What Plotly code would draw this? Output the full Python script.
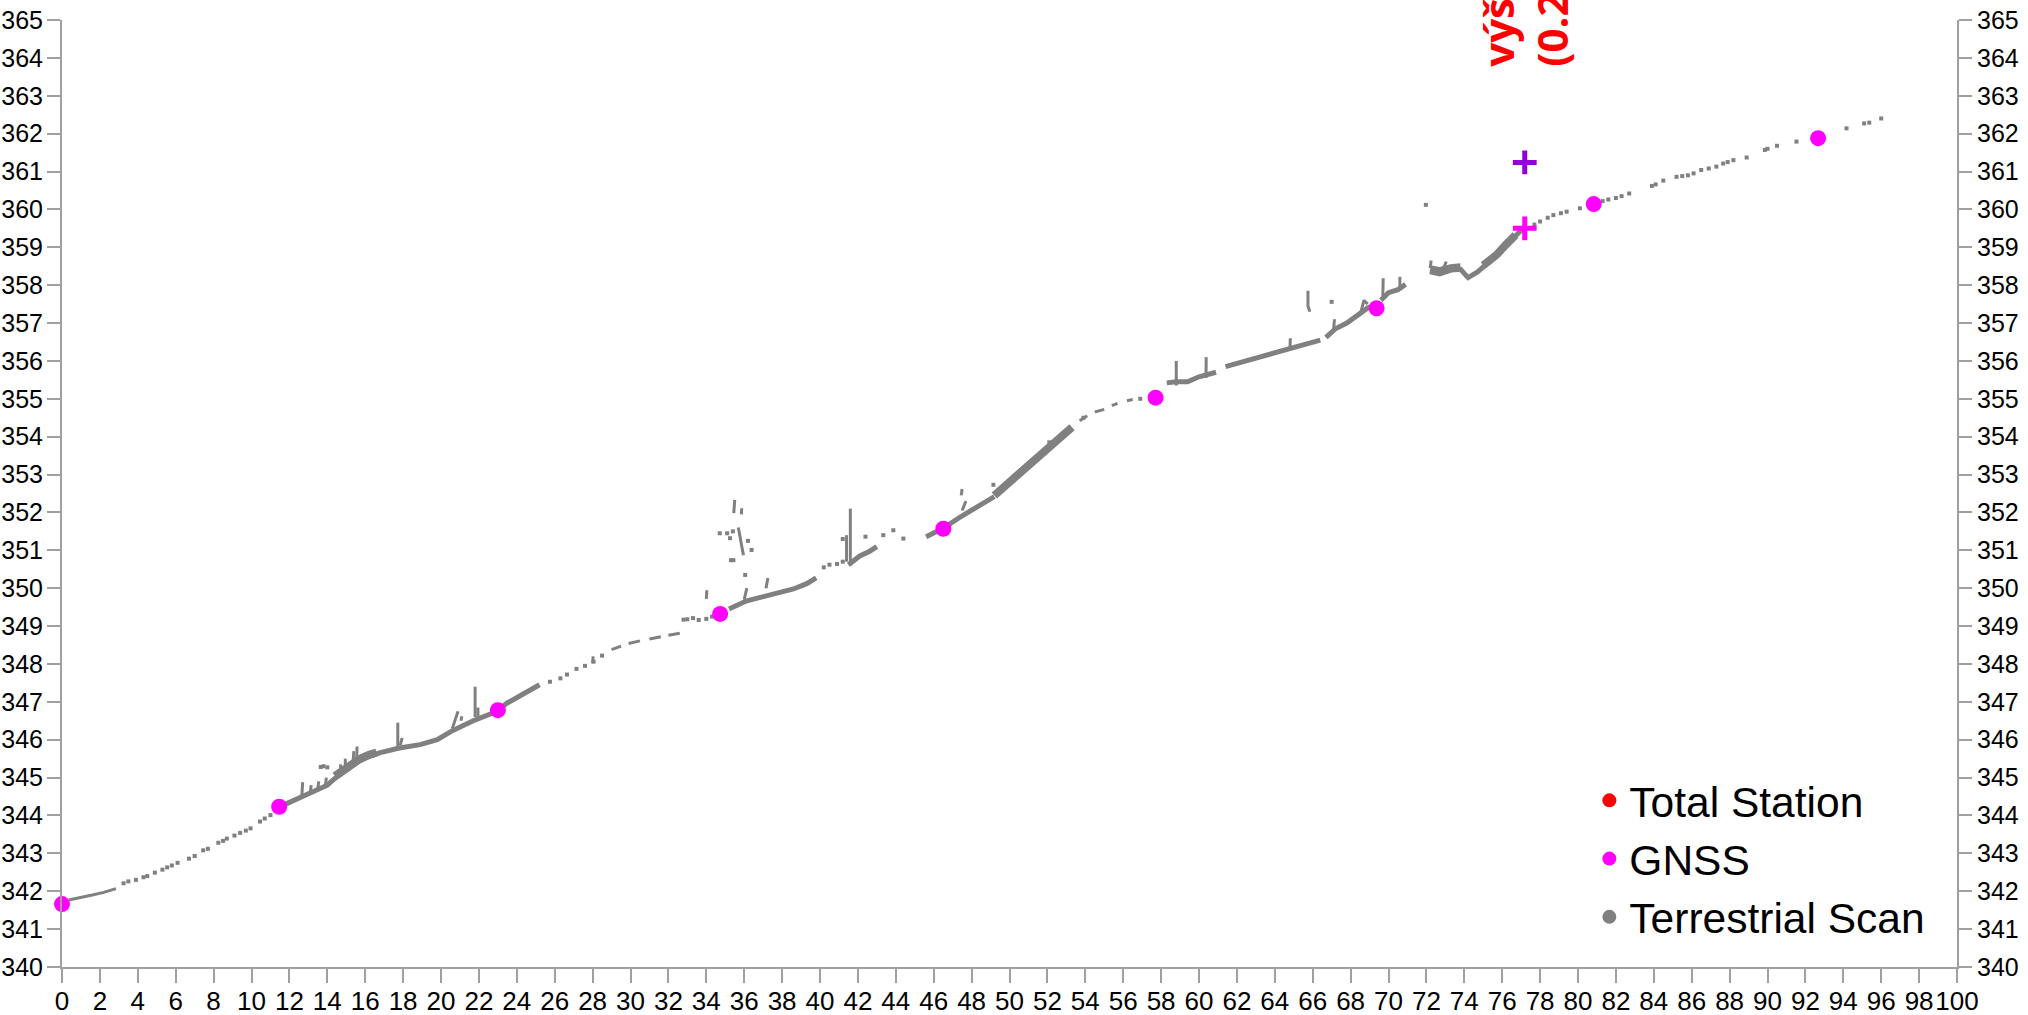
import plotly.graph_objects as go

# ---------------- data ----------------
# GNSS control points along the profile (station [m], elevation [m])
gnss_x = [0.0, 11.46, 23.0, 34.73, 46.51, 57.71, 69.37, 80.83, 92.67]
gnss_y = [341.66, 344.23, 346.78, 349.32, 351.57, 355.03, 357.39, 360.14, 361.88]

# Total station shots (same stations as GNSS, drawn underneath)
ts_x = gnss_x
ts_y = gnss_y

# Check point: ground level and elevated position
check_x = [77.19]
check_ground_y = [359.50]
check_top_y = [361.24]

# Terrestrial scan: dense ground bands (centre lines, segments split by None)
band_x = [11.8, 12.5, 13.3, 14.0, 14.4, 14.9, 15.7, 16.2, 16.8, 17.8, 18.9, 19.8,
          20.6, 21.7, 22.8, 23.5, 24.5, 25.2, None,
          35.2, 35.6, 36.1, 36.8, 37.7, 38.6, 39.3, 39.8, None,
          41.5, 42.1, 42.6, 43.0, None,
          45.6, 46.0, 46.5, 47.4, 48.3, 49.2, None,
          58.3, 58.8, 59.4, 60.0, 60.9, None,
          61.4, 62.5, 63.5, 64.5, 65.5, 66.4, None,
          66.7, 67.2, 67.8, 68.4, 68.9, 69.3, None,
          69.6, 70.0, 70.5, 70.9, None,
          72.2, 72.7, 73.3, 73.8, 74.2, 74.7, 75.2, 75.7, 76.2, 76.7, 77.2]
band_y = [344.30, 344.46, 344.62, 344.80, 344.98, 345.17, 345.44, 345.56, 345.66, 345.78, 345.87, 346.00,
          346.24, 346.50, 346.72, 346.97, 347.24, 347.45, None,
          349.45, 349.55, 349.66, 349.75, 349.85, 349.98, 350.12, 350.27, None,
          350.62, 350.85, 350.97, 351.10, None,
          351.36, 351.45, 351.58, 351.88, 352.16, 352.42, None,
          355.42, 355.45, 355.45, 355.58, 355.70, None,
          355.85, 356.00, 356.15, 356.26, 356.40, 356.55, None,
          356.62, 356.85, 357.00, 357.20, 357.40, 357.45, None,
          357.60, 357.80, 357.88, 358.02, None,
          358.35, 358.30, 358.40, 358.42, 358.20, 358.35, 358.57, 358.77, 359.05, 359.30, 359.55]

# Terrestrial scan: thickest parts of the point cloud
thick_x = [14.4, 14.9, 15.7, 16.2, 16.6, None,
           49.2, 50.0, 50.9, 51.8, 52.7, 53.3, None,
           72.2, 72.7, 73.3, 73.8, None,
           75.0, 75.7, 76.2, 76.7]
thick_y = [345.04, 345.22, 345.49, 345.60, 345.66, None,
           352.45, 352.80, 353.25, 353.65, 353.98, 354.25, None,
           358.42, 358.37, 358.45, 358.47, None,
           358.52, 358.80, 359.07, 359.32]

# Terrestrial scan: thin runs and vegetation stems
stem_x = [0.35, 0.9, 1.6, 2.2, 2.85, None,
          29.0, 29.5, None, 29.9, 30.5, None, 31.0, 31.6, None, 32.0, 32.6, None,
          53.7, 54.1, None, 54.5, 55.0, None, 55.4, 55.7, None, 56.2, 56.5, None,
          12.65, 12.7, None, 13.1, 13.15, None, 13.5, 13.55, None, 13.9, 13.95, None,
          14.7, 14.7, None, 14.95, 14.95, None, 15.35, 15.4, None, 15.55, 15.57, None,
          15.75, 15.8, None, 17.72, 17.72, None, 17.85, 17.95, None,
          20.6, 20.75, 20.9, None, 21.05, 21.1, None, 21.8, 21.8, None, 21.95, 21.95, None,
          28.0, 28.03, None, 34.0, 34.03, None, 35.45, 35.5, None, 35.85, 35.87, None,
          35.69, 35.85, 35.96, None, 36.0, 36.1, 36.14, None, 37.15, 37.25, None,
          41.4, 41.4, None, 41.6, 41.6, None, 47.45, 47.5, None, 47.5, 47.7, None,
          58.8, 58.8, None, 60.37, 60.38, None, 64.8, 64.82, None, 67.1, 67.15, None,
          68.5, 68.7, 68.9, None, 65.75, 65.75, 65.85, None, 69.7, 69.72, None,
          70.6, 70.6, None, 72.2, 72.25, None, 72.9, 73.05]
stem_y = [341.77, 341.82, 341.90, 341.97, 342.07, None,
          348.38, 348.47, None, 348.54, 348.61, None, 348.66, 348.72, None, 348.76, 348.81, None,
          354.42, 354.55, None, 354.65, 354.72, None, 354.82, 354.88, None, 354.95, 354.98, None,
          344.45, 344.88, None, 344.60, 344.80, None, 344.70, 344.90, None, 344.80, 345.00, None,
          345.10, 345.35, None, 345.20, 345.50, None, 345.35, 345.70, None, 345.45, 345.82, None,
          345.45, 345.60, None, 345.80, 346.45, None, 345.85, 346.05, None,
          346.30, 346.55, 346.75, None, 346.50, 346.62, None, 346.60, 347.40, None, 346.60, 346.85, None,
          348.02, 348.20, None, 349.72, 349.95, None, 351.98, 352.33, None, 351.95, 352.11, None,
          351.60, 351.20, 350.87, None, 349.70, 349.95, 350.00, None, 350.00, 350.27, None,
          350.70, 351.40, None, 350.60, 352.10, None, 352.45, 352.62, None, 352.05, 352.30, None,
          355.35, 356.00, None, 355.55, 356.10, None, 356.30, 356.60, None, 356.80, 357.10, None,
          357.20, 357.60, 357.50, None, 357.85, 357.45, 357.30, None, 357.70, 358.18, None,
          357.90, 358.22, None, 358.45, 358.65, None, 358.45, 358.62]

# Terrestrial scan: sparse single returns
pts_x = [3.25, 3.5, 3.9, 4.3, 4.5, 4.9, 5.3, 5.55, 5.8, 6.1, 6.7, 7.0, 7.45, 7.7, 8.25, 8.5,
         8.7, 9.1, 9.4, 9.7, 9.95, 10.45, 10.7, 11.0,
         13.65, 13.8, 14.0,
         25.75, 26.3, 26.65, 27.15, 27.6, 28.05, 28.5,
         32.8, 33.0, 33.3, 33.6, 34.0, 34.3,
         34.71, 35.25, 35.4, 36.39, 35.3, 35.43, 36.05, 36.2, 35.1,
         40.2, 40.5, 40.9, 41.2, 43.34, 43.87, 44.4, 41.2, 42.4,
         49.15, 52.1, 53.9, 56.9, 67.0, 71.97,
         77.7, 78.0, 78.4, 78.7, 79.1, 79.4, 80.1, 81.3, 81.6, 82.0, 82.3, 82.7, 83.9, 84.1,
         84.5, 85.2, 85.5, 85.8, 86.1, 86.5, 86.9, 87.3, 87.66, 87.9, 88.2, 88.9, 89.86,
         90.0, 90.5, 91.53, 94.17, 95.1, 95.37, 96.0]
pts_y = [342.21, 342.26, 342.30, 342.37, 342.40, 342.49, 342.57, 342.63, 342.68, 342.75, 342.86,
         342.93, 343.08, 343.12, 343.28, 343.33, 343.39, 343.47, 343.54, 343.60, 343.66, 343.84,
         343.92, 344.01,
         345.28, 345.30, 345.27,
         347.53, 347.62, 347.72, 347.87, 347.95, 348.06, 348.22,
         349.17, 349.18, 349.21, 349.16, 349.19, 349.25,
         351.45, 351.32, 351.50, 351.01, 350.74, 350.74, 350.35, 351.25, 351.45,
         350.55, 350.62, 350.64, 350.70, 351.40, 351.53, 351.31, 351.30, 351.36,
         352.73, 353.85, 354.50, 355.00, 357.56, 360.12,
         359.60, 359.68, 359.78, 359.85, 359.90, 359.94, 360.03, 360.22, 360.26, 360.30, 360.35,
         360.42, 360.62, 360.66, 360.76, 360.86, 360.88, 360.90, 360.95, 361.04, 361.08, 361.13,
         361.21, 361.25, 361.30, 361.37, 361.57, 361.60, 361.68, 361.79, 362.14, 362.27, 362.29,
         362.40]

legend_names = ["Total Station", "GNSS", "Terrestrial Scan"]
legend_colors = ["#ff0000", "#ff00ff", "#808080"]

x_ticks = list(range(0, 101, 2))
y_ticks = list(range(340, 366))

# ---------------- figure ----------------
SCAN = "#808080"
AXIS = "#a0a0a0"
FONT = "Liberation Sans, Arial, sans-serif"

fig = go.Figure()

fig.add_trace(go.Scatter(x=band_x, y=band_y, mode="lines", showlegend=False,
                         line=dict(color=SCAN, width=5), connectgaps=False))
fig.add_trace(go.Scatter(x=thick_x, y=thick_y, mode="lines", showlegend=False,
                         line=dict(color=SCAN, width=8), connectgaps=False))
fig.add_trace(go.Scatter(x=stem_x, y=stem_y, mode="lines", showlegend=False,
                         line=dict(color=SCAN, width=3), connectgaps=False))
fig.add_trace(go.Scatter(x=pts_x, y=pts_y, mode="markers", showlegend=False,
                         marker=dict(color=SCAN, size=4, symbol="square")))

fig.add_trace(go.Scatter(x=ts_x, y=ts_y, mode="markers", showlegend=False, cliponaxis=False,
                         marker=dict(color="#ff0000", size=12)))
fig.add_trace(go.Scatter(x=gnss_x, y=gnss_y, mode="markers", showlegend=False, cliponaxis=False,
                         marker=dict(color="#ff00ff", size=16)))

fig.add_trace(go.Scatter(x=check_x, y=check_top_y, mode="markers", showlegend=False,
                         marker=dict(symbol="cross-thin", size=17,
                                     line=dict(color="#9400d3", width=5))))
fig.add_trace(go.Scatter(x=check_x, y=check_ground_y, mode="markers", showlegend=False,
                         marker=dict(symbol="cross-thin", size=17,
                                     line=dict(color="#ff00ff", width=5))))

# legend entries
for name, col in zip(legend_names, legend_colors):
    fig.add_trace(go.Scatter(x=[None], y=[None], mode="markers", name=name,
                             marker=dict(color=col, size=14)))

# axis on the right carrying the same elevation scale
fig.add_trace(go.Scatter(x=[None], y=[None], yaxis="y2", showlegend=False, hoverinfo="skip"))

fig.add_annotation(x=check_x[0], y=363.72, xref="x", yref="y",
                   text="výškový rozdíl<br>(0.2 m)", textangle=-90,
                   showarrow=False, xanchor="center", yanchor="bottom", align="left",
                   font=dict(family="Open Sans, sans-serif", size=42, color="#ff0000",
                             weight="bold"))

axis_common = dict(showgrid=False, zeroline=False, showline=True, linecolor=AXIS, linewidth=2,
                   ticks="outside", tickcolor=AXIS, tickwidth=2)
tick_font_x = dict(family=FONT, size=26, color="#000000")
tick_font_y = dict(family=FONT, size=25, color="#000000")

fig.update_layout(
    width=2028, height=1015,
    margin=dict(l=62, r=71, t=20, b=48, autoexpand=False),
    paper_bgcolor="white", plot_bgcolor="white",
    xaxis=dict(range=[0, 100], tickvals=x_ticks, ticktext=[str(v) for v in x_ticks],
               ticklen=14, tickangle=0, ticklabelstandoff=-4, tickfont=tick_font_x,
               **axis_common),
    yaxis=dict(range=[340, 365], tickvals=y_ticks, ticktext=[str(v) for v in y_ticks],
               ticklen=13, ticklabelstandoff=-1, tickfont=tick_font_y, **axis_common),
    yaxis2=dict(range=[340, 365], tickvals=y_ticks, ticktext=[str(v) for v in y_ticks],
                ticklen=13, overlaying="y", side="right", tickfont=tick_font_y,
                **axis_common),
    legend=dict(x=0.806, y=0.212, xanchor="left", yanchor="top",
                font=dict(family=FONT, size=42.5, color="#000000"),
                bgcolor="rgba(0,0,0,0)", itemsizing="trace", tracegroupgap=0),
    showlegend=True,
)

fig.write_html("out.html")
